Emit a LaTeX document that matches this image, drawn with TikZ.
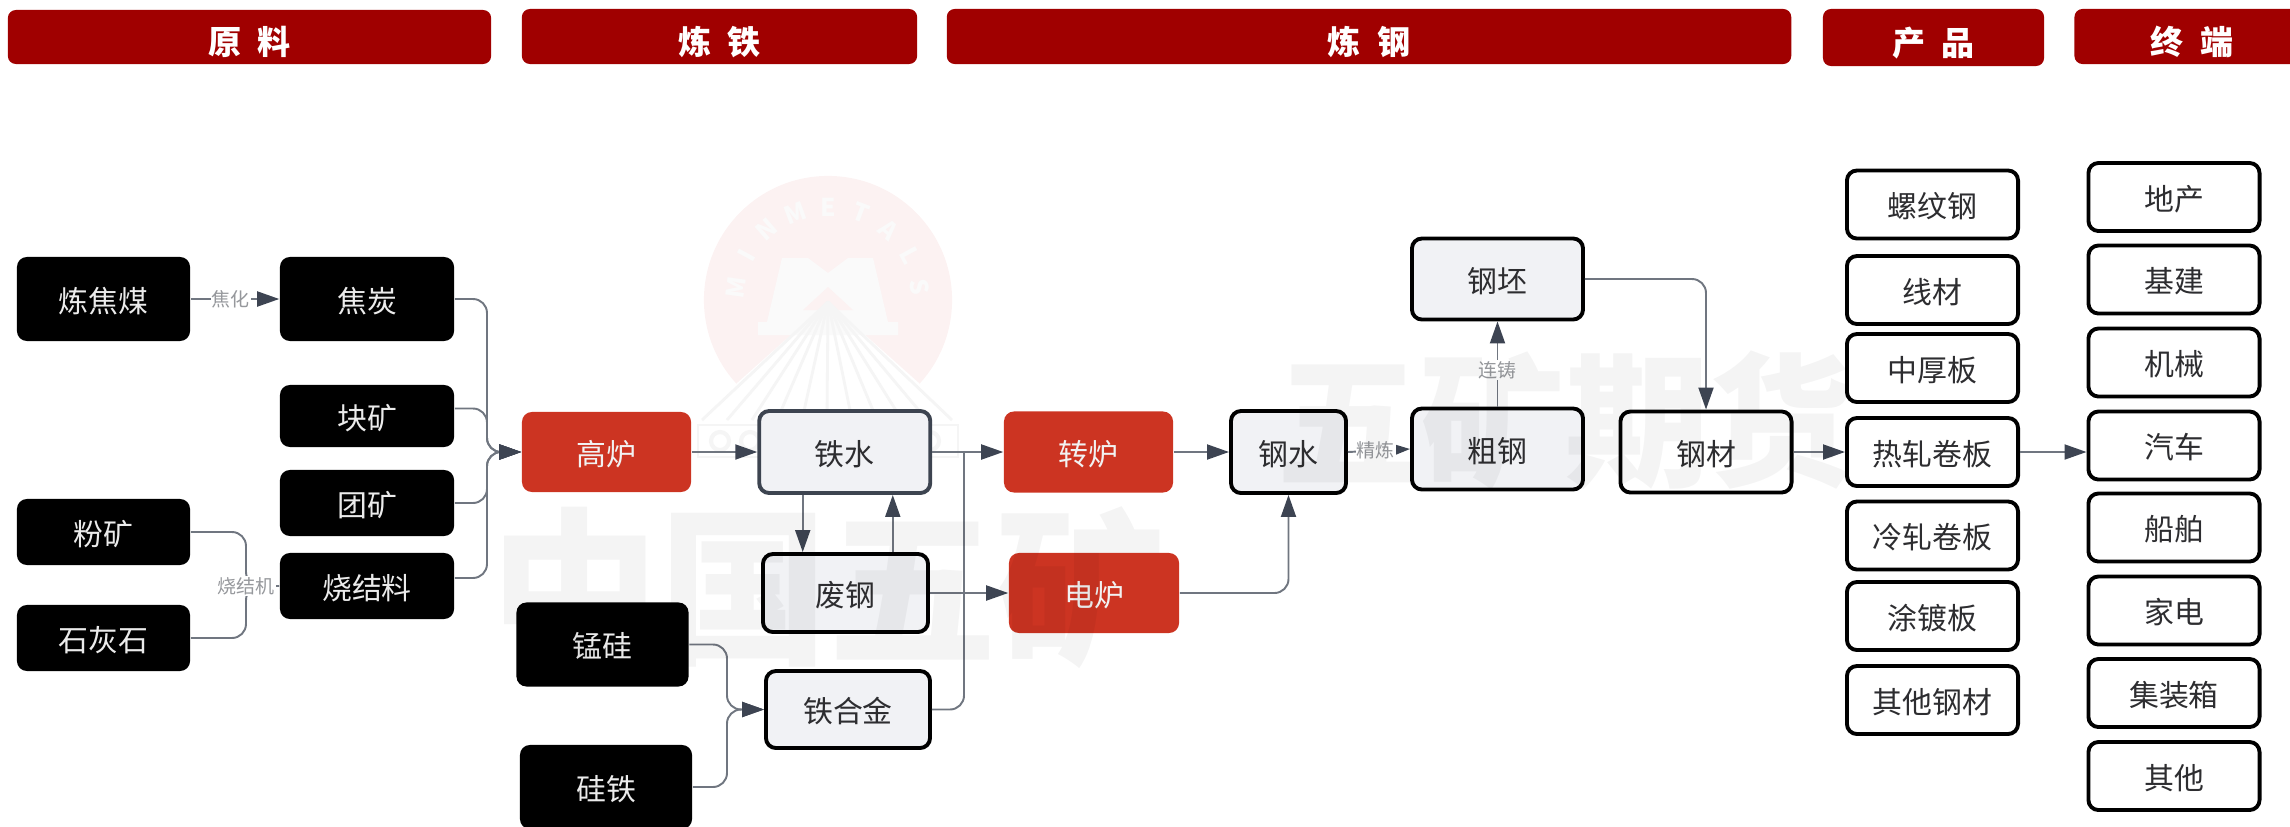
\documentclass[tikz,border=0pt]{standalone}
\usepackage{fontspec}
\setmainfont{Noto Sans CJK SC}
\usetikzlibrary{arrows.meta, positioning}
\definecolor{hdrred}{RGB}{160, 0, 0}
\definecolor{furnred}{RGB}{204, 52, 34}
\definecolor{boxgrey}{RGB}{241, 242, 245}
\definecolor{boxdark}{RGB}{61, 68, 80}
\definecolor{linegrey}{RGB}{112, 118, 128}
\definecolor{tipdark}{RGB}{61, 68, 82}
\definecolor{lblgrey}{RGB}{150, 152, 156}
\definecolor{txtdark}{RGB}{45, 45, 48}
\definecolor{logopink}{RGB}{252, 242, 242}
\definecolor{logoline}{RGB}{245, 245, 245}

\begin{document}
\begin{tikzpicture}[
  x=0.01cm, y=-0.01cm,
  hdrbox/.style={fill=hdrred, rounded corners=0.08cm, text=white, font=\fontsize{9.4pt}{11pt}\selectfont\bfseries, inner sep=0pt, text height=10pt, text depth=0pt},
  basebox/.style={rounded corners=0.1cm, font=\fontsize{8.5pt}{10pt}\selectfont, inner sep=0pt, text height=8pt, text depth=0.5pt},
  darkbox/.style={basebox, fill=black, text=white!92!black},
  redbox/.style={basebox, fill=furnred, text=white!95!black},
  greybox/.style={basebox, fill=boxgrey, draw=black, line width=1.1pt, text=txtdark},
  whitebox/.style={basebox, fill=white, draw=black, line width=1.1pt, text=txtdark},
  flowline/.style={draw=linegrey, line width=0.55pt, rounded corners=0.14cm},
  flowarrow/.style={flowline, -{Triangle[length=0.22cm, width=0.15cm, color=tipdark]}},
  edgelabel/.style={fill=white, sharp corners, text=lblgrey, font=\fontsize{5.4pt}{6pt}\selectfont, inner sep=0.3pt},
  wmtext/.style={text=black, text opacity=0.045, inner sep=0pt, font=\bfseries},
]
  \useasboundingbox (0,0) rectangle (2290,827);

  % Logo watermark
  \fill[logopink] (828,300) circle (1.24cm);
  \fill[white] (828,302) -- (690,425) -- (966,425) -- cycle;
  \fill[white!98!black] (758,335) -- (758,322) -- (767,322) -- (782,258) -- (808,258) -- (828,273) -- (848,258) -- (873,258) -- (888,322) -- (898,322) -- (898,335) -- cycle;
  \fill[logopink] (803,310) -- (828,287) -- (853,310) -- cycle;
  \foreach \bx in {702,727,...,952} {
    \draw[logoline, line width=0.8pt] (828,302) -- (\bx,420);
  }
  \draw[logoline, line width=0.8pt] (698,425) rectangle (958,457);
  \foreach \bx in {720,750,...,940} {
    \draw[logoline, line width=1.2pt] (\bx,441) circle (0.09cm);
  }
  \foreach \ch [count=\i] in {M,I,N,M,E,T,A,L,S} {
    \pgfmathsetmacro{\ang}{172-20.5*(\i-1)}
    \node[text=white!98!black, font=\fontsize{7pt}{8pt}\selectfont\bfseries, inner sep=0pt, rotate=\ang-90] (lg\i) at ([shift={(\ang:0.93cm)}]828,300) {\ch};
  }

  % Column headers
  \node[hdrbox, minimum width=4.83cm, minimum height=0.54cm] (hdryl) at (249.5,37) {原\enspace 料};
  \node[hdrbox, minimum width=3.95cm, minimum height=0.55cm] (hdrlt) at (719.5,36.5) {炼\enspace 铁};
  \node[hdrbox, minimum width=8.44cm, minimum height=0.55cm] (hdrlg) at (1369,36.5) {炼\enspace 钢};
  \node[hdrbox, minimum width=2.21cm, minimum height=0.57cm] (hdrcp) at (1933.5,37.5) {产\enspace 品};
  \node[hdrbox, minimum width=2.35cm, minimum height=0.55cm] (hdrzd) at (2192,36.5) {终\enspace 端};

  % Raw materials (black)
  \foreach \nm/\lab/\cx/\cy/\w/\h in {
    lianjiaomei/炼焦煤/103.5/299/1.73/0.84,
    jiaotan/焦炭/367/299/1.74/0.84,
    kuaikuang/块矿/367/416/1.74/0.62,
    tuankuang/团矿/367/503/1.74/0.66,
    shaojieliao/烧结料/367/586/1.74/0.66,
    fenkuang/粉矿/103.5/532/1.73/0.66,
    shihuishi/石灰石/103.5/638/1.73/0.66,
    mengsi/锰硅/602.5/644.5/1.72/0.84,
    guitie/硅铁/606/787/1.72/0.84
  } {
    \node[darkbox, minimum width=\w cm, minimum height=\h cm] (\nm) at (\cx,\cy) {\lab};
  }

  % Furnaces (red)
  \node[redbox, minimum width=1.69cm, minimum height=0.80cm] (gaolu) at (606.5,452) {高炉};
  \node[redbox, minimum width=1.69cm, minimum height=0.81cm] (zhuanlu) at (1088.5,452) {转炉};
  \node[redbox, minimum width=1.70cm, minimum height=0.80cm] (dianlu) at (1094,593) {电炉};

  % Process steps (grey)
  \node[greybox, draw=boxdark, minimum width=1.71cm, minimum height=0.82cm] (tieshui) at (844.75,452) {铁水};
  \node[greybox, minimum width=1.65cm, minimum height=0.78cm] (feigang) at (845.5,593) {废钢};
  \node[greybox, minimum width=1.64cm, minimum height=0.77cm] (tiehejin) at (848,709.5) {铁合金};
  \node[greybox, minimum width=1.15cm, minimum height=0.82cm] (gangshui) at (1288.5,452) {钢水};
  \node[greybox, minimum width=1.71cm, minimum height=0.81cm] (cugang) at (1497.5,449) {粗钢};
  \node[greybox, minimum width=1.71cm, minimum height=0.81cm] (gangpi) at (1497.5,279) {钢坯};
  \node[whitebox, minimum width=1.71cm, minimum height=0.81cm] (gangcai) at (1706,452) {钢材};

  % Products
  \foreach \nm/\lab/\cy in {
    luowen/螺纹钢/204.5, xiancai/线材/290, zhonghou/中厚板/368, rezha/热轧卷板/452,
    lengzha/冷轧卷板/535.5, tudu/涂镀板/616, qitagc/其他钢材/700
  } {
    \node[whitebox, minimum width=1.71cm, minimum height=0.68cm] (\nm) at (1932.5,\cy) {\lab};
  }

  % End uses
  \foreach \nm/\lab/\cy in {
    dichan/地产/197, jijian/基建/279.5, jixie/机械/362.5, qiche/汽车/445.5,
    chuanbo/船舶/527.5, jiadian/家电/610.5, jizhuang/集装箱/693, qitazd/其他/776
  } {
    \node[whitebox, minimum width=1.71cm, minimum height=0.68cm] (\nm) at (2174,\cy) {\lab};
  }

  % Junction points
  \coordinate (gljoin) at (487,452);
  \coordinate (sjjoin) at (246,586);
  \coordinate (thjoin) at (727,709.5);
  \coordinate (tsjoin) at (964,452);

  % Raw material flows
  \draw[flowarrow] (lianjiaomei) -- node[edgelabel, pos=0.45] (lbljh) {焦化} (jiaotan);
  \draw[flowline] (fenkuang.east) -| (sjjoin) -- (shaojieliao.west);
  \draw[flowline] (shihuishi.east) -| (sjjoin) -- (shaojieliao.west);
  \node[edgelabel] (lblsj) at (sjjoin) {烧结机};
  \draw[flowarrow] (jiaotan.east) -| (gljoin) -- (gaolu.west);
  \draw[flowarrow] ([yshift=0.075cm]kuaikuang.east) -| (gljoin) -- (gaolu.west);
  \draw[flowarrow] (tuankuang.east) -| (gljoin) -- (gaolu.west);
  \draw[flowarrow] ([yshift=0.08cm]shaojieliao.east) -| (gljoin) -- (gaolu.west);

  % Ironmaking flows
  \draw[flowarrow] (gaolu) -- (tieshui);
  \draw[flowarrow] ([xshift=-0.42cm]tieshui.south) -- ([xshift=-0.42cm]tieshui.south |- feigang.north);
  \draw[flowarrow] ([xshift=0.48cm]tieshui.south |- feigang.north) -- ([xshift=0.48cm]tieshui.south);
  \draw[flowarrow] (mengsi.east) -| (thjoin) -- (tiehejin.west);
  \draw[flowarrow] (guitie.east) -| (thjoin) -- (tiehejin.west);
  \draw[flowline] (tiehejin.east) -| (tsjoin);

  % Steelmaking flows
  \draw[flowarrow] (tieshui) -- (zhuanlu);
  \draw[flowarrow] (feigang) -- (dianlu);
  \draw[flowarrow] (zhuanlu) -- (gangshui);
  \draw[flowarrow] (dianlu.east) -| (gangshui.south);
  \draw[flowarrow] (gangshui.east) -- node[edgelabel, pos=0.45] (lbljl) {精炼} (cugang.west);
  \draw[flowarrow] (cugang.north) -- node[edgelabel, pos=0.43] (lbllz) {连铸} (gangpi.south);
  \draw[flowarrow] (gangpi.east) -| (gangcai.north);

  % Products and end uses
  \draw[flowarrow] (gangcai) -- (rezha);
  \draw[flowarrow] (rezha.east) -- (rezha.east -| qiche.west);

  % Text watermarks
  \node[wmtext, font=\fontsize{48pt}{49pt}\selectfont\bfseries] (wmzg) at (828,588) {中国五矿};
  \node[wmtext, font=\fontsize{41pt}{42pt}\selectfont\bfseries] (wmqh) at (1565,420) {五矿期货};
\end{tikzpicture}
\end{document}
